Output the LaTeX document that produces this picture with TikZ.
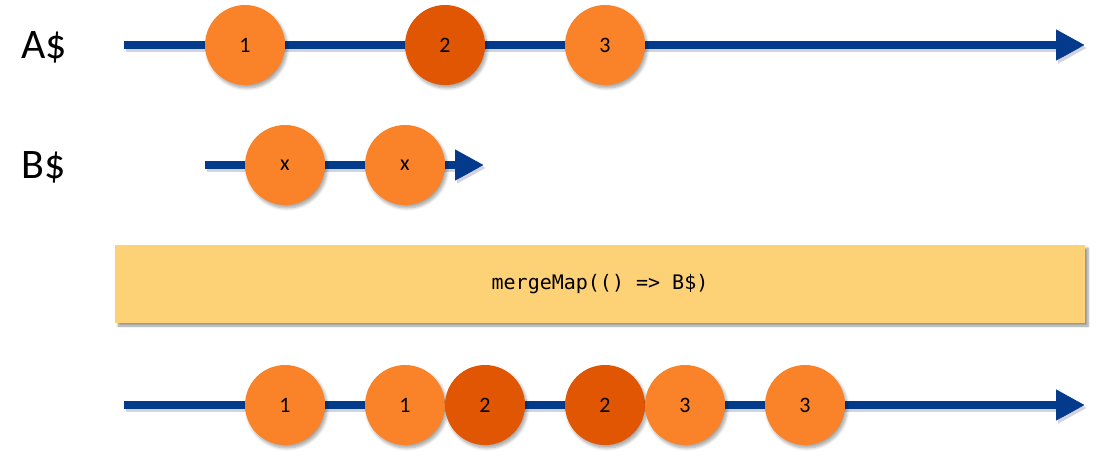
\documentclass[tikz,border=0pt]{standalone}
\usepackage{fontspec}
\setmainfont{Carlito}
\setmonofont{DejaVu Sans Mono}
\usetikzlibrary{arrows.meta,shadows.blur}
\definecolor{lineblue}{RGB}{4,58,140}
\definecolor{lightorange}{RGB}{250,130,40}
\definecolor{darkorange}{RGB}{224,86,2}
\definecolor{boxyellow}{RGB}{253,209,118}
\definecolor{shadowblue}{RGB}{70,80,130}
\tikzset{
  timeline/.style={draw=lineblue, line width=8pt, -{Triangle[length=29pt,width=29pt]}},
  timeshadow/.style={draw=shadowblue, draw opacity=0.25, line width=8pt, -{Triangle[length=29pt,width=29pt]}},
  marble/.style={circle, minimum size=80pt, inner sep=0pt, fill=lightorange, font=\fontsize{22}{24}\selectfont,
    blur shadow={shadow xshift=2pt, shadow yshift=-3pt, shadow opacity=35, shadow blur steps=6, shadow blur radius=3pt}},
  darkmarble/.style={marble, fill=darkorange},
  streamlabel/.style={anchor=base west, inner sep=0pt, font=\fontsize{42}{46}\selectfont},
  opbox/.style={fill=boxyellow, minimum width=970pt, minimum height=78pt, inner sep=0pt,
    font=\ttfamily\fontsize{20}{24}\selectfont,
    blur shadow={shadow xshift=3pt, shadow yshift=-3pt, shadow opacity=40, shadow blur steps=6, shadow blur radius=2pt}}
}
\begin{document}
\begin{tikzpicture}[x=1pt,y=-1pt]
\useasboundingbox (0,0) rectangle (1119,463);
% labels
\node[streamlabel] (la) at (21,58) {A\$};
\node[streamlabel] (lb) at (21,178) {B\$};
% coordinates
\coordinate (a0) at (124,45);
\coordinate (a1) at (1085,45);
\coordinate (b0) at (205,165);
\coordinate (b1) at (484,165);
\coordinate (c0) at (124,405);
\coordinate (c1) at (1085,405);
\coordinate (a0s) at (126,48);
\coordinate (a1s) at (1087,48);
\coordinate (b0s) at (207,168);
\coordinate (b1s) at (486,168);
\coordinate (c0s) at (126,408);
\coordinate (c1s) at (1087,408);
% shadows of lines
\draw[timeshadow] (a0s) -- (a1s);
\draw[timeshadow] (b0s) -- (b1s);
\draw[timeshadow] (c0s) -- (c1s);
% lines
\draw[timeline] (a0) -- (a1);
\draw[timeline] (b0) -- (b1);
\draw[timeline] (c0) -- (c1);
% A marbles
\node[marble] (m1) at (245,45) {1};
\node[darkmarble] (m2) at (445,45) {2};
\node[marble] (m3) at (605,45) {3};
% B marbles
\node[marble] (x1) at (285,165) {x};
\node[marble] (x2) at (405,165) {x};
% operator
\node[opbox] (op) at (600,284) {mergeMap(() => B\$)};
% output marbles
\node[marble] (o1) at (285,405) {1};
\node[marble] (o2) at (405,405) {1};
\node[darkmarble] (o3) at (485,405) {2};
\node[darkmarble] (o4) at (605,405) {2};
\node[marble] (o5) at (685,405) {3};
\node[marble] (o6) at (805,405) {3};
\end{tikzpicture}
\end{document}
